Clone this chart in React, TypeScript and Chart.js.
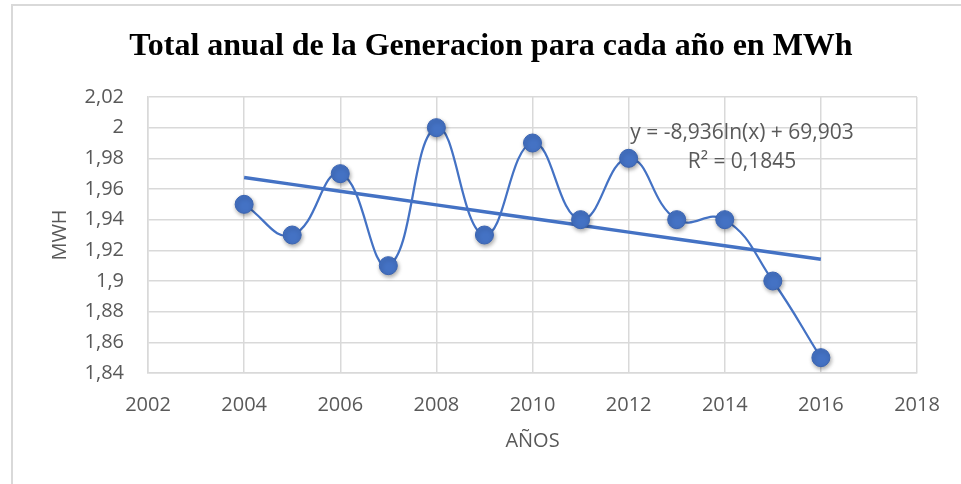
import React, { useEffect, useRef } from "react";
import { Chart, registerables } from "chart.js";

Chart.register(...registerables);

const years = [2004, 2005, 2006, 2007, 2008, 2009, 2010, 2011, 2012, 2013, 2014, 2015, 2016];
const generation = [1.95, 1.93, 1.97, 1.91, 2.0, 1.93, 1.99, 1.94, 1.98, 1.94, 1.94, 1.9, 1.85];
const titleText = "Total anual de la Generacion para cada año en MWh";
const xTitle = "AÑOS";
const yTitle = "MWH";
const trendLabel1 = "y = -8,936ln(x) + 69,903";
const trendLabel2 = "R² = 0,1845";

function logFit(xs: number[], ys: number[]) {
  const lx = xs.map((v) => Math.log(v));
  const n = xs.length;
  const mx = lx.reduce((a, b) => a + b, 0) / n;
  const my = ys.reduce((a, b) => a + b, 0) / n;
  let sxy = 0;
  let sxx = 0;
  for (let i = 0; i < n; i++) {
    sxy += (lx[i] - mx) * (ys[i] - my);
    sxx += (lx[i] - mx) * (lx[i] - mx);
  }
  const a = sxy / sxx;
  const b = my - a * mx;
  return { a, b };
}

const TEXT = "#595959";
const GRID = "#d9d9d9";
const BLUE = "#4472C4";
const FONT = "'Open Sans', sans-serif";

export default function App() {
  const ref = useRef<HTMLCanvasElement>(null);

  useEffect(() => {
    if (!ref.current) return;
    const fit = logFit(years, generation);
    const trend = years.map((x) => ({ x, y: fit.a * Math.log(x) + fit.b }));
    const pts = years.map((x, i) => ({ x, y: generation[i] }));

    const overlay = {
      id: "overlay",
      beforeDatasetDraw(chart: any, args: any) {
        if (args.index === 2) {
          const ctx = chart.ctx;
          ctx.save();
          ctx.shadowColor = "rgba(0,0,0,0.35)";
          ctx.shadowBlur = 4;
          ctx.shadowOffsetX = 1;
          ctx.shadowOffsetY = 2;
        }
      },
      afterDatasetDraw(chart: any, args: any) {
        if (args.index === 2) chart.ctx.restore();
      },
      afterDraw(chart: any) {
        const ctx = chart.ctx;
        ctx.save();
        ctx.fillStyle = "#000";
        ctx.font = "bold 32px 'Liberation Serif', 'Times New Roman', serif";
        ctx.textAlign = "center";
        ctx.textBaseline = "alphabetic";
        ctx.fillText(titleText, 491, 55);
        ctx.fillStyle = TEXT;
        ctx.font = "21px " + FONT;
        ctx.textBaseline = "middle";
        ctx.fillText(trendLabel1, 742, 133);
        ctx.fillText(trendLabel2, 742, 162);
        ctx.restore();
      },
    };

    const chart = new Chart(ref.current, {
      type: "scatter",
      data: {
        datasets: [
          {
            data: pts,
            showLine: true,
            borderColor: BLUE,
            borderWidth: 2.25,
            tension: 0.45,
            pointRadius: 0,
            order: 3,
          } as any,
          {
            data: trend,
            showLine: true,
            borderColor: BLUE,
            borderWidth: 3.5,
            pointRadius: 0,
            tension: 0,
            order: 2,
          } as any,
          {
            data: pts,
            showLine: false,
            backgroundColor: BLUE,
            borderColor: "#3A64B2",
            borderWidth: 1,
            pointRadius: 9,
            order: 1,
          } as any,
        ],
      },
      options: {
        animation: false,
        responsive: false,
        events: [],
        layout: { padding: { left: 0, right: 44, top: 97, bottom: 0 } },
        plugins: {
          legend: { display: false },
          title: { display: false },
          tooltip: { enabled: false },
        },
        scales: {
          x: {
            type: "linear",
            min: 2002,
            max: 2018,
            afterFit: (s: any) => {
              s.height = 111;
            },
            ticks: {
              stepSize: 2,
              color: TEXT,
              font: { family: FONT, size: 20 },
              padding: 20,
              callback: (v: any) => String(v),
            },
            grid: { color: GRID, lineWidth: 1.5, drawTicks: false },
            border: { color: GRID, width: 1.5 },
            title: {
              display: true,
              text: xTitle,
              color: TEXT,
              font: { family: FONT, size: 20 },
              padding: { top: 0, bottom: 31 },
            },
          },
          y: {
            min: 1.84,
            max: 2.02,
            afterFit: (s: any) => {
              s.width = 148;
            },
            ticks: {
              stepSize: 0.02,
              color: TEXT,
              font: { family: FONT, size: 20 },
              padding: 24,
              callback: (v: any) => String(Number(Number(v).toFixed(2))).replace(".", ","),
            },
            grid: { color: GRID, lineWidth: 1.5, drawTicks: false },
            border: { color: GRID, width: 1.5 },
            title: {
              display: true,
              text: yTitle,
              color: TEXT,
              font: { family: FONT, size: 20 },
              padding: { top: 48, bottom: 0 },
            },
          },
        },
      },
      plugins: [overlay],
    } as any);
    return () => chart.destroy();
  }, []);

  return (
    <div
      style={{
        position: "fixed",
        left: 0,
        top: 0,
        width: 961,
        height: 484,
        overflow: "hidden",
        background: "#fff",
      }}
    >
      <div
        style={{
          position: "absolute",
          left: 11,
          top: 4,
          width: 1100,
          height: 700,
          borderTop: "2px solid #d9d9d9",
          borderLeft: "2px solid #d9d9d9",
        }}
      />
      <canvas
        ref={ref}
        width={961}
        height={484}
        style={{ position: "absolute", left: 0, top: 0, width: 961, height: 484 }}
      />
    </div>
  );
}
